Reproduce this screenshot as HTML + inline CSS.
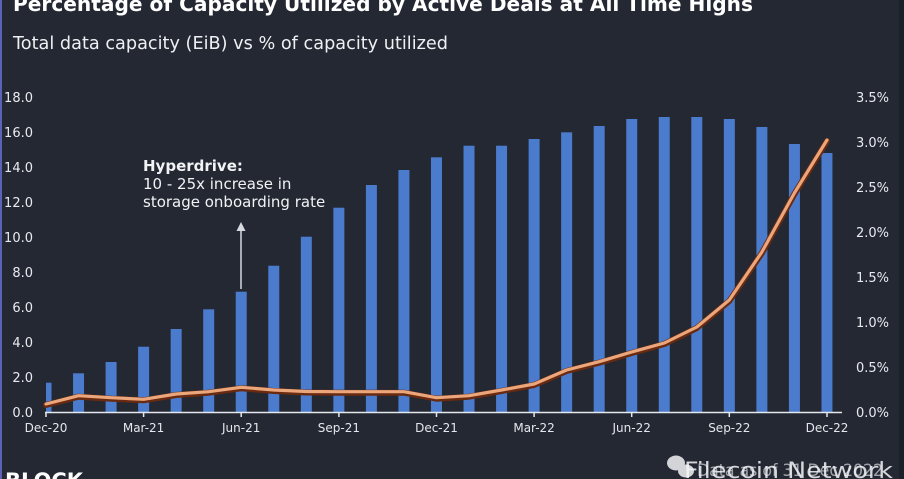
<!DOCTYPE html>
<html><head><meta charset="utf-8"><style>
html,body{margin:0;padding:0;background:#232833;}
svg{display:block;}
text{font-family:"DejaVu Sans","Liberation Sans",sans-serif;}
</style></head><body>
<svg width="904" height="479" viewBox="0 0 904 479" xmlns="http://www.w3.org/2000/svg">
<rect x="0" y="0" width="904" height="479" fill="#232833"/>
<rect x="0" y="0" width="2" height="479" fill="#5c62b8"/>
<rect x="899" y="0" width="5" height="479" fill="#1b1f28"/>

<text x="13" y="11" font-size="20" font-weight="bold" fill="#ffffff" textLength="740" lengthAdjust="spacingAndGlyphs">Percentage of Capacity Utilized by Active Deals at All Time Highs</text>
<text x="13" y="49" font-size="17.5" fill="#eef0f3" textLength="435" lengthAdjust="spacingAndGlyphs">Total data capacity (EiB) vs % of capacity utilized</text>

<g font-size="13" fill="#e8eaee" text-anchor="end">
<text x="33" y="102">18.0</text>
<text x="33" y="137">16.0</text>
<text x="33" y="172">14.0</text>
<text x="33" y="207">12.0</text>
<text x="33" y="242">10.0</text>
<text x="33" y="277">8.0</text>
<text x="33" y="312">6.0</text>
<text x="33" y="347">4.0</text>
<text x="33" y="382">2.0</text>
<text x="33" y="417">0.0</text>
</g>
<g font-size="13" fill="#e8eaee">
<text x="856" y="102">3.5%</text>
<text x="856" y="147">3.0%</text>
<text x="856" y="192">2.5%</text>
<text x="856" y="237">2.0%</text>
<text x="856" y="282">1.5%</text>
<text x="856" y="327">1.0%</text>
<text x="856" y="372">0.5%</text>
<text x="856" y="417">0.0%</text>
</g>

<g fill="#4b7bcc">
<rect x="46" y="382.7" width="5.5" height="29.3"/>
<rect x="73.04" y="373.3" width="11" height="38.7"/>
<rect x="105.58" y="362" width="11" height="50"/>
<rect x="138.12" y="346.7" width="11" height="65.3"/>
<rect x="170.66" y="329" width="11" height="83"/>
<rect x="203.2" y="309.3" width="11" height="102.7"/>
<rect x="235.74" y="291.7" width="11" height="120.3"/>
<rect x="268.28" y="265.7" width="11" height="146.3"/>
<rect x="300.82" y="236.7" width="11" height="175.3"/>
<rect x="333.36" y="207.7" width="11" height="204.3"/>
<rect x="365.9" y="185" width="11" height="227"/>
<rect x="398.44" y="170" width="11" height="242"/>
<rect x="430.98" y="157.3" width="11" height="254.7"/>
<rect x="463.52" y="145.7" width="11" height="266.3"/>
<rect x="496.06" y="145.7" width="11" height="266.3"/>
<rect x="528.6" y="139" width="11" height="273"/>
<rect x="561.14" y="132.3" width="11" height="279.7"/>
<rect x="593.68" y="126" width="11" height="286"/>
<rect x="626.22" y="119" width="11" height="293"/>
<rect x="658.76" y="117" width="11" height="295"/>
<rect x="691.3" y="117" width="11" height="295"/>
<rect x="723.84" y="119" width="11" height="293"/>
<rect x="756.38" y="127" width="11" height="285"/>
<rect x="788.92" y="144" width="11" height="268"/>
<rect x="821.46" y="153" width="11" height="259"/>
</g>

<polyline fill="none" stroke="#6a2a10" stroke-width="6" stroke-linejoin="round" stroke-linecap="round"
points="46,405 78.5,396.7 111.1,398.7 143.6,400.3 176.2,395 208.7,392.7 241.2,388.3 273.8,391 306.3,392.5 338.9,392.7 371.4,392.7 404,392.7 436.5,398.7 469,396.7 501.6,391 534.1,385 566.6,371 599.2,362.7 631.7,353 664.3,344 696.8,328 729.3,301 761.9,253 794.4,194 827,141"/>
<polyline fill="none" stroke="#eba67b" stroke-width="3.2" stroke-linejoin="round" stroke-linecap="round"
points="46,404 78.5,395.7 111.1,397.7 143.6,399.3 176.2,394 208.7,391.7 241.2,387.3 273.8,390 306.3,391.5 338.9,391.7 371.4,391.7 404,391.7 436.5,397.7 469,395.7 501.6,390 534.1,384 566.6,370 599.2,361.7 631.7,352 664.3,343 696.8,327 729.3,300 761.9,252 794.4,193 827,140"/>

<line x1="45" y1="412.5" x2="842" y2="412.5" stroke="#e4e7eb" stroke-width="1.5"/>
<g stroke="#e4e7eb" stroke-width="1.5">
<line x1="46" y1="412" x2="46" y2="417"/>
<line x1="143.6" y1="412" x2="143.6" y2="417"/>
<line x1="241.2" y1="412" x2="241.2" y2="417"/>
<line x1="338.9" y1="412" x2="338.9" y2="417"/>
<line x1="436.5" y1="412" x2="436.5" y2="417"/>
<line x1="534.1" y1="412" x2="534.1" y2="417"/>
<line x1="631.7" y1="412" x2="631.7" y2="417"/>
<line x1="729.3" y1="412" x2="729.3" y2="417"/>
<line x1="827" y1="412" x2="827" y2="417"/>
</g>
<g font-size="12" fill="#e4e7eb" text-anchor="middle">
<text x="46" y="432">Dec-20</text>
<text x="143.6" y="432">Mar-21</text>
<text x="241.2" y="432">Jun-21</text>
<text x="338.9" y="432">Sep-21</text>
<text x="436.5" y="432">Dec-21</text>
<text x="534.1" y="432">Mar-22</text>
<text x="631.7" y="432">Jun-22</text>
<text x="729.3" y="432">Sep-22</text>
<text x="827" y="432">Dec-22</text>
</g>

<text x="143" y="171" font-size="15" font-weight="bold" fill="#f2f3f5">Hyperdrive:</text>
<text x="143" y="189" font-size="15" fill="#f2f3f5">10 - 25x increase in</text>
<text x="143" y="207" font-size="15" fill="#f2f3f5">storage onboarding rate</text>
<line x1="241" y1="229" x2="241" y2="289" stroke="#d6d9de" stroke-width="1.5"/>
<polygon points="241,222 236.5,231 245.5,231" fill="#d6d9de"/>

<text x="5" y="488" font-size="21" font-weight="bold" fill="#ffffff" textLength="78" lengthAdjust="spacingAndGlyphs">BLOCK</text>

<text x="697" y="476" font-size="17" fill="#9ea3ab" textLength="186" lengthAdjust="spacingAndGlyphs">Data as of 31 Dec 2022</text>
<g fill="#e6e7ea" opacity="0.9">
<ellipse cx="676" cy="463" rx="9" ry="7.5"/>
<ellipse cx="686" cy="471" rx="8" ry="6.5"/>
</g>
<text x="684" y="478" font-size="22" fill="#f4f5f7" opacity="0.85" textLength="209" lengthAdjust="spacingAndGlyphs">Filecoin Network</text>
</svg>
</body></html>
